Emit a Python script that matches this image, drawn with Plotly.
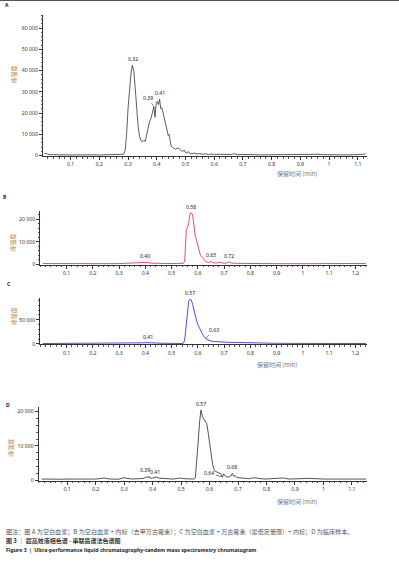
import plotly.graph_objects as go

W, H = 399, 573

# ---------------- Data ----------------
a_time = [0.01, 0.015, 0.02, 0.03, 0.04, 0.05, 0.06, 0.07, 0.08, 0.09, 0.10, 0.11, 0.12, 0.13, 0.14, 0.15,
          0.16, 0.17, 0.18, 0.19, 0.20, 0.21, 0.22, 0.23, 0.24, 0.25, 0.26, 0.27, 0.28, 0.285, 0.29, 0.295,
          0.30, 0.305, 0.31, 0.315, 0.32, 0.325, 0.33, 0.335, 0.34, 0.345, 0.35, 0.355, 0.36, 0.365, 0.37,
          0.375, 0.38, 0.385, 0.39, 0.394, 0.398, 0.402, 0.406, 0.41, 0.414, 0.418, 0.422, 0.426, 0.43,
          0.435, 0.44, 0.443, 0.447, 0.45, 0.455, 0.46, 0.465, 0.47, 0.475, 0.48, 0.485, 0.49, 0.495, 0.50,
          0.505, 0.51, 0.515, 0.52, 0.53, 0.54, 0.55, 0.56, 0.57, 0.58, 0.59, 0.60, 0.62, 0.64, 0.66, 0.67,
          0.68, 0.70, 0.72, 0.74, 0.76, 0.78, 0.80, 0.82, 0.84, 0.86, 0.88, 0.90, 0.92, 0.94, 0.96, 0.98,
          1.00, 1.02, 1.04, 1.06, 1.08, 1.10, 1.12, 1.127]
a_signal = [900, 1000, 600, 400, 300, 500, 200, 350, 250, 300, 400, 250, 300, 350, 250, 300,
            400, 250, 300, 350, 250, 300, 350, 300, 250, 350, 600, 500, 450, 600, 2500, 10000,
            22000, 31000, 38000, 42500, 40000, 32000, 22000, 14000, 9000, 7000, 6500, 7200, 6600, 9500, 13500,
            16000, 17500, 20000, 23000, 18000, 24500, 25500, 24000, 26500, 22000, 22500, 20000, 17000, 14500,
            11000, 9500, 10000, 6000, 4500, 3800, 3200, 3000, 3300, 3400, 3000, 2200, 1800, 2600, 1500,
            1200, 1900, 1000, 900, 1100, 700, 900, 600, 800, 500, 700, 500, 600, 400, 500, 900,
            400, 500, 300, 400, 300, 350, 300, 400, 300, 350, 500, 300, 350, 400, 600, 400,
            300, 350, 400, 300, 350, 400, 600, 900]

b_time = [0.01, 0.05, 0.10, 0.15, 0.20, 0.25, 0.30, 0.35, 0.37, 0.38, 0.39, 0.40, 0.41, 0.42, 0.44, 0.46,
          0.48, 0.50, 0.52, 0.54, 0.545, 0.55, 0.553, 0.556, 0.56, 0.565, 0.57, 0.575, 0.58, 0.585, 0.59,
          0.595, 0.60, 0.605, 0.61, 0.615, 0.62, 0.625, 0.63, 0.64, 0.645, 0.65, 0.655, 0.66, 0.67, 0.68,
          0.685, 0.69, 0.70, 0.71, 0.72, 0.725, 0.73, 0.75, 0.78, 0.80, 0.85, 0.90, 0.95, 1.00, 1.05,
          1.10, 1.15, 1.20, 1.24]
b_signal = [300, 250, 300, 250, 300, 250, 300, 350, 500, 700, 800, 900, 700, 500, 400, 300,
            350, 300, 350, 300, 400, 1500, 8000, 15500, 16500, 18000, 22500, 23000, 22000, 17000, 13000,
            10500, 8000, 5500, 4000, 3200, 2500, 1800, 1200, 800, 1000, 1300, 800, 600, 500, 900,
            700, 500, 400, 600, 1100, 700, 500, 400, 300, 350, 300, 250, 350, 300, 250,
            300, 350, 300, 300]

c_time = [0.01, 0.05, 0.10, 0.15, 0.20, 0.25, 0.30, 0.35, 0.37, 0.38, 0.39, 0.40, 0.41, 0.42, 0.43, 0.44,
          0.45, 0.47, 0.50, 0.54, 0.545, 0.55, 0.555, 0.56, 0.565, 0.57, 0.575, 0.58, 0.585, 0.59, 0.595,
          0.60, 0.605, 0.61, 0.615, 0.62, 0.625, 0.63, 0.635, 0.64, 0.65, 0.66, 0.67, 0.68, 0.70, 0.72,
          0.75, 0.78, 0.80, 0.85, 0.90, 1.00, 1.10, 1.24]
c_signal = [800, 800, 800, 800, 800, 800, 800, 900, 1200, 1800, 2200, 2600, 2800, 2600, 2300, 2000,
            1500, 1100, 900, 900, 1500, 8000, 35000, 65000, 88000, 92500, 91000, 82000, 68000, 57000, 48000,
            40000, 33000, 28000, 23000, 18000, 14000, 11000, 9000, 7500, 6000, 5000, 4500, 4000, 3500, 3200,
            3000, 2500, 2000, 1500, 1200, 1000, 900, 800]

d_time = [0.01, 0.03, 0.05, 0.08, 0.10, 0.13, 0.15, 0.18, 0.20, 0.23, 0.25, 0.28, 0.30, 0.31, 0.33, 0.35,
          0.37, 0.375, 0.38, 0.39, 0.395, 0.40, 0.41, 0.415, 0.42, 0.43, 0.45, 0.47, 0.49, 0.50, 0.51,
          0.53, 0.545, 0.55, 0.555, 0.56, 0.565, 0.57, 0.575, 0.58, 0.585, 0.59, 0.595, 0.60, 0.605, 0.61,
          0.615, 0.62, 0.63, 0.635, 0.64, 0.645, 0.65, 0.655, 0.66, 0.67, 0.675, 0.68, 0.685, 0.69, 0.695,
          0.70, 0.72, 0.74, 0.75, 0.76, 0.78, 0.80, 0.83, 0.86, 0.88, 0.90, 0.95, 1.00, 1.05, 1.09, 1.10,
          1.15]
d_signal = [300, 250, 300, 250, 300, 250, 300, 250, 300, 600, 300, 250, 700, 500, 300, 400,
            500, 800, 900, 800, 500, 600, 700, 900, 600, 500, 400, 300, 500, 600, 400,
            300, 300, 600, 5000, 11000, 17000, 20500, 18500, 17800, 17500, 16500, 14000, 11500, 8000, 5000,
            3200, 2600, 2200, 2000, 1800, 900, 1800, 1200, 900, 1000, 1200, 2000, 1100, 1300, 800,
            700, 500, 400, 600, 700, 400, 300, 500, 600, 300, 400, 500, 300, 300, 500, 300,
            300]

x_ticks_a = [0.1, 0.2, 0.3, 0.4, 0.5, 0.6, 0.7, 0.8, 0.9, 1.0, 1.1]
x_ticks_bc = [0.1, 0.2, 0.3, 0.4, 0.5, 0.6, 0.7, 0.8, 0.9, 1.0, 1.1, 1.2]
x_ticks_d = [0.1, 0.2, 0.3, 0.4, 0.5, 0.6, 0.7, 0.8, 0.9, 1.0, 1.1]
y_ticks_a = [0, 10000, 20000, 30000, 40000, 50000, 60000]
y_ticks_b = [0, 10000, 20000]
y_ticks_c = [0, 50000]
y_ticks_d = [0, 10000, 20000]

peaks_a = [(0.318, 42500, "0.32"), (0.39, 23000, "0.39"), (0.41, 26500, "0.41")]
peaks_b = [(0.575, 23000, "0.58"), (0.40, 900, "0.40"), (0.65, 1300, "0.65"), (0.72, 1100, "0.72")]
peaks_c = [(0.57, 92500, "0.57"), (0.41, 2800, "0.41"), (0.63, 11000, "0.63")]
peaks_d = [(0.57, 20500, "0.57"), (0.39, 800, "0.39"), (0.41, 700, "0.41"), (0.645, 900, "0.64"),
           (0.68, 2000, "0.68")]

x_title = "保留时间 (min)"
y_title = "峰强度"

# ---------------- Figure ----------------
fig = go.Figure()
FONT = "Noto Sans, DejaVu Sans, sans-serif"
CJK = "Noto Sans CJK SC"

fig.add_trace(go.Scatter(x=a_time, y=a_signal, mode="lines", line=dict(color="#333333", width=0.8),
                         xaxis="x", yaxis="y", showlegend=False, hoverinfo="skip"))
fig.add_trace(go.Scatter(x=b_time, y=b_signal, mode="lines", line=dict(color="#e4505c", width=1),
                         xaxis="x2", yaxis="y2", showlegend=False, hoverinfo="skip"))
fig.add_trace(go.Scatter(x=c_time, y=c_signal, mode="lines", line=dict(color="#4d4de6", width=1),
                         xaxis="x3", yaxis="y3", showlegend=False, hoverinfo="skip"))
fig.add_trace(go.Scatter(x=d_time, y=d_signal, mode="lines", line=dict(color="#2a2a2a", width=0.8),
                         xaxis="x4", yaxis="y4", showlegend=False, hoverinfo="skip"))

tickfont = dict(family=FONT, size=5.2, color="#333333")


def xa(domain, rng, ticks, anchor):
    return dict(domain=domain, range=rng, tickvals=ticks, anchor=anchor, showgrid=False, zeroline=False,
                showline=True, linecolor="#333333", linewidth=1, ticks="outside", ticklen=3,
                tickcolor="#333333", tickfont=tickfont,
                minor=dict(dtick=0.02, ticks="outside", ticklen=1.5, tickcolor="#555555", showgrid=False))


def ya(domain, rng, ticks, anchor, mdt):
    return dict(domain=domain, range=rng, tickvals=ticks, anchor=anchor, showgrid=False, zeroline=False,
                showline=True, linecolor="#333333", linewidth=1, ticks="outside", ticklen=3,
                tickcolor="#333333", tickfont=tickfont, tickformat=",d",
                minor=dict(dtick=mdt, ticks="outside", ticklen=1.5, tickcolor="#555555", showgrid=False))


def py(p):
    return 1 - p / H


def px(p):
    return p / W


fig.update_layout(
    width=W, height=H, margin=dict(l=0, r=0, t=0, b=0),
    paper_bgcolor="white", plot_bgcolor="white", separators=". ",
    xaxis=xa([px(43), px(366.7)], [0.004, 1.131], x_ticks_a, "y"),
    yaxis=ya([py(157), py(15)], [-300, 66200], y_ticks_a, "x", 2000),
    xaxis2=xa([px(40.3), px(366.7)], [0.0, 1.243], x_ticks_bc, "y2"),
    yaxis2=ya([py(266.3), py(212.3)], [-300, 23700], y_ticks_b, "x2", 2000),
    xaxis3=xa([px(40.3), px(366.7)], [0.0, 1.243], x_ticks_bc, "y3"),
    yaxis3=ya([py(346.3), py(299.3)], [-1200, 95500], y_ticks_c, "x3", 10000),
    xaxis4=xa([px(38.7), px(366.7)], [0.0, 1.152], x_ticks_d, "y4"),
    yaxis4=ya([py(483.3), py(409)], [-200, 21400], y_ticks_d, "x4", 2000),
)

ann = []
lblfont = dict(family=FONT, size=5.2, color="#222222")


def peak_labels(peaks, xr, yr, special=None):
    special = special or {}
    for (t, v, s) in peaks:
        if s in special:
            ax_, ay_ = special[s]
            ann.append(dict(x=t, y=v, xref=xr, yref=yr, text=s, showarrow=True, arrowhead=0,
                            arrowwidth=0.6, arrowcolor="#333333", ax=ax_, ay=ay_, font=lblfont,
                            standoff=0, startstandoff=0))
        else:
            ann.append(dict(x=t, y=v, xref=xr, yref=yr, text=s, showarrow=False, yanchor="bottom",
                            yshift=0, font=lblfont))


peak_labels(peaks_a, "x", "y", {"0.39": (-6, -9)})
peak_labels(peaks_b, "x2", "y2")
peak_labels(peaks_c, "x3", "y3", {"0.63": (8, -9)})
peak_labels(peaks_d, "x4", "y4", {"0.39": (-5, -7), "0.64": (-13, -4)})

# panel letters
for letter, xx, yy in [("A", 7, 5), ("B", 5, 198), ("C", 9, 285), ("D", 8, 407)]:
    ann.append(dict(x=px(xx), y=py(yy), xref="paper", yref="paper", text="<b>%s</b>" % letter,
                    showarrow=False, xanchor="center", yanchor="middle",
                    font=dict(family=FONT, size=5, color="#222222")))

# axis titles
for xx, yy in [(297, 174), (277, 366), (297, 504)]:
    ann.append(dict(x=px(xx), y=py(yy), xref="paper", yref="paper", text=x_title, showarrow=False,
                    xanchor="center", yanchor="middle",
                    font=dict(family=CJK, size=6, color="#6a7590")))
for xx, yy in [(14, 75), (13, 244), (13, 318), (11, 450)]:
    ann.append(dict(x=px(xx), y=py(yy), xref="paper", yref="paper", text=y_title, showarrow=False,
                    textangle=-90, xanchor="center", yanchor="middle",
                    font=dict(family=CJK, size=6, color="#b98a50")))

# captions
ann.append(dict(x=px(4), y=py(534), xref="paper", yref="paper", xanchor="left", yanchor="middle",
                showarrow=False,
                text="图注：图 A 为空白血浆；B 为空白血浆 + 内标（去甲万古霉素）；C 为空白血浆 + 万古霉素（最低定量限）+ 内标；D 为临床样本。",
                font=dict(family=CJK, size=6.1, color="#555555")))
ann.append(dict(x=px(4), y=py(543), xref="paper", yref="paper", xanchor="left", yanchor="middle",
                showarrow=False, text="<b>图 3 ｜ 超高效液相色谱 - 串联质谱法色谱图</b>",
                font=dict(family=CJK, size=6, color="#333333")))
ann.append(dict(x=px(4), y=py(553), xref="paper", yref="paper", xanchor="left", yanchor="middle",
                showarrow=False,
                text="<b>Figure 3 ｜ Ultra-performance liquid chromatography-tandem mass spectrometry chromatogram</b>",
                font=dict(family=FONT, size=5.2, color="#222222")))

fig.update_layout(annotations=ann)
fig.add_shape(type="line", xref="paper", yref="paper", x0=0, x1=1, y0=1, y1=1,
              line=dict(color="#555555", width=2))

fig.write_html("out.html", config={"displayModeBar": False},
               post_script="document.body.style.margin='0px';document.body.style.overflow='hidden';")
